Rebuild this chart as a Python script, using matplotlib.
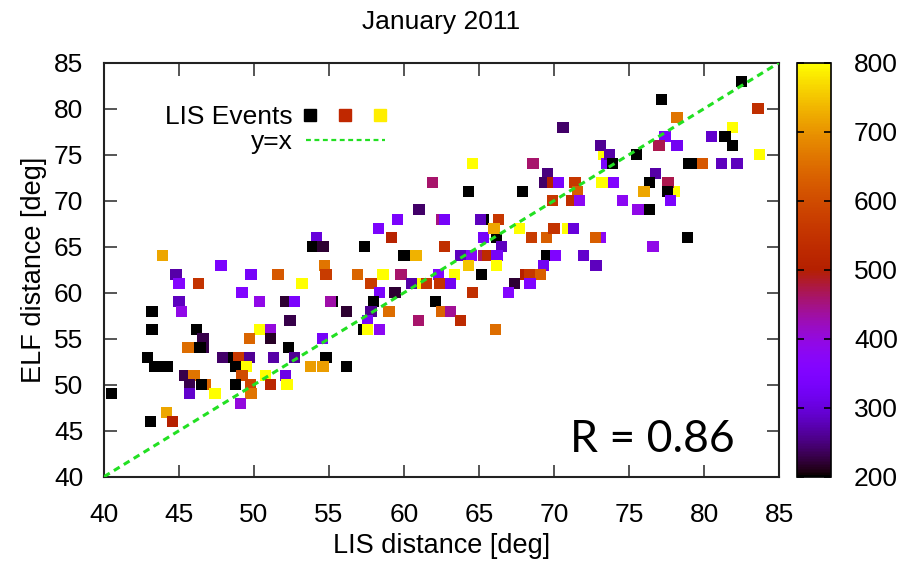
import matplotlib
matplotlib.use("Agg")
import matplotlib.pyplot as plt
from matplotlib.lines import Line2D
from matplotlib.legend_handler import HandlerTuple
import numpy as np

plt.rcParams['font.family'] = ['Liberation Sans', 'DejaVu Sans']

# LIS distance [deg], ELF distance [deg], colour value (200..800)
lis_x = [
    55.2, 46.6, 48.4, 60.65, 60.75, 57.3, 73.3, 73.5, 78.0, 70.9, 73.1, 62.5, 65.3, 46.75,
    54.15, 53.9, 54.6, 43.9, 47.8, 44.8, 49.8, 51.6, 54.7, 54.8, 45.0, 46.3, 53.2, 49.2,
    45.0, 50.35, 52.1, 52.7, 55.1, 43.2, 45.15, 52.4, 43.2, 46.15, 50.35, 51.1, 46.6, 49.7,
    51.1, 54.55, 45.6, 46.4, 52.3, 42.9, 47.9, 49.0, 49.7, 51.3, 52.7, 54.8, 43.4, 44.2,
    48.8, 49.5, 53.75, 54.6, 45.4, 46.0, 49.2, 50.75, 52.1, 45.7, 46.5, 48.75, 49.75, 51.1,
    52.2, 40.5, 45.7, 47.4, 49.8, 49.1, 44.15, 43.1, 44.55,
    58.3, 59.15, 57.35, 62.7, 65.3, 66.15, 67.7, 68.5, 69.5, 66.5, 60.0, 60.8, 63.8, 64.5,
    65.3, 65.6, 66.2, 69.5, 64.3, 66.15, 69.3, 56.9, 58.6, 59.8, 62.3, 63.35, 65.15, 68.1,
    68.4, 69.1, 57.8, 60.5, 61.5, 62.4, 63.1, 67.35, 68.4, 58.35, 59.4, 64.55, 66.95, 57.95,
    62.1, 56.15, 57.8, 59.0, 62.5, 63.1, 60.95, 63.75, 57.55, 57.55, 58.35, 66.1, 56.15,
    82.5, 77.15, 83.6, 78.2, 70.6, 81.9, 77.4, 80.5, 81.4, 73.1, 77.0, 78.2, 81.9, 73.7,
    75.5, 83.7, 73.9, 79.0, 79.3, 79.9, 81.15, 82.2, 69.55, 76.75, 69.35, 69.9, 70.3, 71.4,
    73.2, 73.95, 76.35, 77.6, 71.55, 76.0, 77.55, 69.9, 71.15, 71.7, 74.55, 77.75, 75.6,
    76.35, 70.0, 71.3, 72.75, 78.9, 76.6, 70.1, 71.95, 72.8,
    64.55, 68.6, 61.9, 64.3, 67.9, 61.0, 59.55, 62.7, 65.1, 66.3, 66.0,
]
elf_y = [
    59, 54, 53, 61, 61, 56, 75, 74, 71, 67, 66, 68, 68, 50,
    66, 65, 65, 64, 63, 62, 62, 62, 63, 62, 61, 61, 61, 60,
    59, 59, 59, 59, 59, 58, 58, 57, 56, 56, 56, 56, 55, 55,
    55, 55, 54, 54, 54, 53, 53, 53, 53, 53, 53, 53, 52, 52,
    52, 52, 52, 52, 51, 51, 51, 51, 51, 50, 50, 50, 50, 50,
    50, 49, 49, 49, 49, 48, 47, 46, 46,
    67, 66, 65, 65, 66, 66, 67, 66, 66, 65, 64, 64, 64, 64,
    64, 64, 64, 64, 63, 63, 63, 62, 62, 62, 62, 62, 62, 62,
    62, 62, 61, 61, 61, 61, 61, 61, 61, 60, 60, 60, 60, 59,
    59, 58, 58, 58, 58, 58, 57, 57, 57, 56, 56, 56, 52,
    83, 81, 80, 79, 78, 78, 77, 77, 77, 76, 76, 76, 76, 75,
    75, 75, 74, 74, 74, 74, 74, 74, 73, 73, 72, 72, 72, 72,
    72, 72, 72, 72, 71, 71, 71, 70, 70, 70, 70, 70, 69,
    69, 67, 67, 66, 66, 65, 64, 64, 63,
    74, 74, 72, 71, 71, 69, 68, 68, 68, 68, 67,
]
value = [
    200, 230, 200, 200, 800, 200, 800, 340, 800, 800, 380, 450, 200, 640,
    300, 200, 220, 720, 340, 270, 330, 620, 660, 570, 360, 550, 800, 350,
    280, 390, 220, 340, 430, 200, 390, 230, 200, 200, 800, 400, 230, 640,
    215, 330, 650, 200, 200, 200, 240, 560, 260, 270, 260, 200, 200, 200,
    200, 800, 710, 710, 230, 660, 600, 800, 310, 230, 200, 200, 590, 520,
    800, 200, 290, 800, 660, 400, 720, 200, 500,
    340, 510, 200, 540, 330, 200, 800, 570, 630, 280, 200, 730, 280, 370,
    460, 530, 330, 200, 750, 800, 320, 640, 800, 460, 350, 800, 200, 500,
    560, 630, 570, 270, 560, 550, 320, 220, 350, 340, 220, 540, 360, 200,
    200, 220, 260, 650, 640, 440, 460, 530, 340, 800, 380, 650, 200,
    200, 200, 540, 660, 240, 800, 340, 290, 200, 260, 470, 320, 200, 270,
    200, 800, 200, 200, 200, 620, 280, 280, 250, 270, 240, 500, 340, 560,
    800, 350, 200, 470, 630, 720, 200, 560, 540, 380, 380, 340, 390,
    200, 550, 300, 630, 200, 390, 350, 290, 280,
    800, 460, 460, 200, 200, 240, 340, 330, 280, 560, 720,
]

xticks = [40, 45, 50, 55, 60, 65, 70, 75, 80, 85]
yticks = [40, 45, 50, 55, 60, 65, 70, 75, 80, 85]
cticks = [200, 300, 400, 500, 600, 700, 800]

FS = 19

fig = plt.figure(figsize=(9.05, 5.69), dpi=100)
ax = fig.add_axes([104/905, 1-476.7/569, 675/905, 414/569])
cmap = plt.get_cmap('gnuplot')
sc = ax.scatter(lis_x, elf_y, c=value, cmap=cmap, vmin=200, vmax=800,
                marker='s', s=64, linewidths=0, zorder=2)
line_x = np.array([40, 85])
ax.plot(line_x, line_x, color='#22e022', ls=(0, (2.2, 1.6)), lw=2.2, zorder=3)

ax.set_xlim(40, 85)
ax.set_ylim(40, 85)
ax.set_xticks(xticks)
ax.set_yticks(yticks)
ax.tick_params(direction='in', length=9, width=1.4, color='#555555', labelsize=FS,
               top=True, right=True)
ax.tick_params(axis='x', pad=19)
ax.tick_params(axis='y', pad=15)
for s in ax.spines.values():
    s.set_linewidth(1.5)
    s.set_color('#222222')
ax.set_xlabel('LIS distance [deg]', fontsize=FS + 0.5, labelpad=4)
ax.set_ylabel('ELF distance [deg]', fontsize=FS + 0.5, labelpad=5)
ax.set_title('January 2011', fontsize=FS, pad=24)

ax.text(0.69, 0.06, 'R = 0.86', transform=ax.transAxes, fontsize=32,
        family=['Lato', 'DejaVu Sans'], ha='left', va='baseline')

h_events = (Line2D([], [], marker='s', color='black', ls='none', ms=8),
            Line2D([], [], marker='s', color='#c02800', ls='none', ms=8),
            Line2D([], [], marker='s', color='#ffee00', ls='none', ms=8))
h_line = Line2D([], [], color='#22e022', ls=(0, (2.2, 1.6)), lw=1.6)
ax.legend([h_events, h_line], ['LIS Events', 'y=x'],
          handler_map={tuple: HandlerTuple(ndivide=None, pad=1.0)},
          markerfirst=False, frameon=False, fontsize=FS, handlelength=3.0,
          loc='upper left', bbox_to_anchor=(0.055, 0.955), labelspacing=0.05,
          handletextpad=0.5)

cax = fig.add_axes([796.5/905, 1-476.7/569, 34/905, 414/569])
cb = fig.colorbar(sc, cax=cax, ticks=cticks)
cb.outline.set_linewidth(1.2)
cax.tick_params(direction='in', length=5, width=1.2, left=True, right=True,
                labelsize=FS, pad=17)

fig.savefig('out.png', dpi=100)
